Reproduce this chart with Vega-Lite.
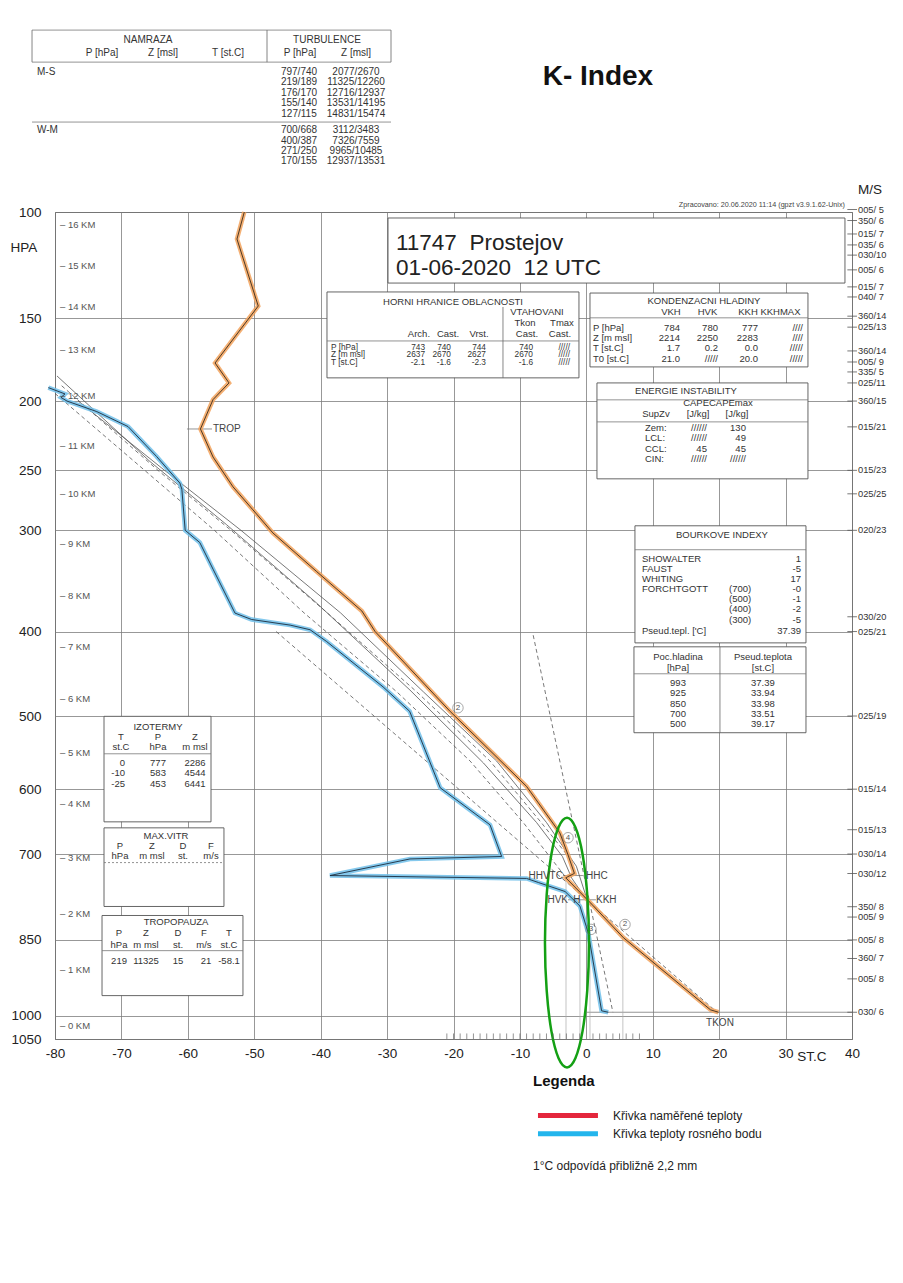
{
"$schema":"https://vega.github.io/schema/vega-lite/v6.json",
"width":797,"height":827,
"autosize":{"type":"none"},
"padding":{"left":55,"top":212,"right":51,"bottom":244},
"background":"#ffffff",
"config":{"view":{"stroke":"#555555","strokeWidth":1},"font":"Liberation Sans","text":{"font":"Liberation Sans","color":"#333333","baseline":"middle"}},
"datasets":{
"temp":[{"p":100,"t":-51.5},{"p":111.4,"t":-52.6},{"p":143.6,"t":-49.4},{"p":175.8,"t":-55.9},{"p":188.2,"t":-53.8},{"p":199,"t":-56.2},{"p":219.2,"t":-58.1},{"p":239.8,"t":-56.2},{"p":263.1,"t":-53.2},{"p":282.2,"t":-50.2},{"p":302.3,"t":-47.2},{"p":338.3,"t":-40.6},{"p":378,"t":-33.8},{"p":400,"t":-31.8},{"p":494.2,"t":-20.5},{"p":596,"t":-9.0},{"p":666,"t":-4.0},{"p":700,"t":-2.8},{"p":732,"t":-1.8},{"p":739.4,"t":-3.1},{"p":782.5,"t":0.6},{"p":846,"t":5.6},{"p":988,"t":18.7},{"p":993,"t":19.9}],
"dew":[{"p":191.2,"t":-81.0},{"p":195.3,"t":-78.5},{"p":197.6,"t":-79.1},{"p":200,"t":-78.2},{"p":207.1,"t":-73.7},{"p":217.5,"t":-69.0},{"p":239.4,"t":-64.7},{"p":260.1,"t":-61.2},{"p":265,"t":-60.9},{"p":300,"t":-60.4},{"p":311,"t":-58.2},{"p":336,"t":-56.2},{"p":380.2,"t":-52.9},{"p":387,"t":-50.4},{"p":393,"t":-44.6},{"p":398,"t":-41.6},{"p":411,"t":-39.1},{"p":463.7,"t":-30.6},{"p":494,"t":-26.6},{"p":598,"t":-22.0},{"p":653.6,"t":-14.5},{"p":704,"t":-12.75},{"p":708,"t":-26.55},{"p":735.6,"t":-38.6},{"p":737.8,"t":-25.5},{"p":740.5,"t":-9.0},{"p":747.5,"t":-7.2},{"p":762.9,"t":-3.2},{"p":788.4,"t":-0.96},{"p":837,"t":0.29},{"p":990,"t":2.3},{"p":993,"t":3.3}],
"parS":[{"line":"a","p":183.8,"t":-79.7},{"line":"a","p":243.2,"t":-65.7},{"line":"a","p":295.1,"t":-54.15},{"line":"a","p":369.8,"t":-40.6},{"line":"a","p":467.6,"t":-26.55},{"line":"a","p":562.6,"t":-15.5},{"line":"a","p":650,"t":-7.5},{"line":"a","p":704,"t":-3.6},{"line":"a","p":740,"t":-2.2},{"line":"a","p":780,"t":0.2},
{"line":"b","p":200,"t":-76.5},{"line":"b","p":250,"t":-63.5},{"line":"b","p":300,"t":-52},{"line":"b","p":380,"t":-37},{"line":"b","p":470,"t":-24.5},{"line":"b","p":560,"t":-13.5},{"line":"b","p":650,"t":-6},{"line":"b","p":720,"t":-1.5},{"line":"b","p":780,"t":0.2}],
"parD":[{"line":"c","p":195,"t":-80},{"line":"c","p":250,"t":-66.5},{"line":"c","p":300,"t":-56},{"line":"c","p":380,"t":-42.5},{"line":"c","p":470,"t":-28.5},{"line":"c","p":560,"t":-17.5},{"line":"c","p":650,"t":-9.5},{"line":"c","p":740,"t":-3.0},
{"line":"d","p":190,"t":-79},{"line":"d","p":250,"t":-64.5},{"line":"d","p":300,"t":-53.5},{"line":"d","p":380,"t":-39},{"line":"d","p":470,"t":-25.5},{"line":"d","p":560,"t":-14.5},{"line":"d","p":650,"t":-6.8},{"line":"d","p":700,"t":-3.0},
{"line":"e","p":400,"t":-46.7},{"line":"e","p":993,"t":19.7},
{"line":"f","p":404,"t":-8.0},{"line":"f","p":993,"t":4.0}],
"ell":[{"i":0,"p":855.3,"t":0.4},{"i":1,"p":768.7,"t":0.14},{"i":2,"p":700.3,"t":-0.57},{"i":3,"p":657.5,"t":-1.65},{"i":4,"p":642.9,"t":-2.91},{"i":5,"p":657.5,"t":-4.18},{"i":6,"p":700.3,"t":-5.26},{"i":7,"p":768.7,"t":-5.97},{"i":8,"p":855.3,"t":-6.23},{"i":9,"p":948,"t":-5.97},{"i":10,"p":1033,"t":-5.26},{"i":11,"p":1092.5,"t":-4.18},{"i":12,"p":1113,"t":-2.91},{"i":13,"p":1092.5,"t":-1.65},{"i":14,"p":1033,"t":-0.57},{"i":15,"p":948,"t":0.14}],
"boxes":[{"t":-29.86,"t2":38.94,"p":102.45,"p2":131.9},{"t":-39.05,"t2":-1.11,"p":136.35,"p2":185.0},{"t":0.55,"t2":33.37,"p":136.9,"p2":178.2},{"t":1.6,"t2":33.37,"p":188.2,"p2":256.7},{"t":7.32,"t2":33.07,"p":296.0,"p2":412.5},{"t":7.17,"t2":33.07,"p":416.9,"p2":521.7},{"t":-72.62,"t2":-56.51,"p":500.4,"p2":649.0},{"t":-72.62,"t2":-54.56,"p":658.3,"p2":789.1},{"t":-72.92,"t2":-51.7,"p":805.2,"p2":958.7}],
"hr":[{"t":-83.46,"t2":-29.41,"p":43.67},{"t":-83.46,"t2":-29.41,"p":51.29},{"t":-83.46,"t2":-29.41,"p":68.03},{"t":-39.05,"t2":-1.11,"p":162.8},{"t":0.55,"t2":33.37,"p":149.9},{"t":1.6,"t2":33.37,"p":199.2},{"t":1.6,"t2":33.37,"p":214.2},{"t":7.32,"t2":33.07,"p":317.6},{"t":7.17,"t2":33.07,"p":448.0},{"t":-72.62,"t2":-56.51,"p":550.0},{"t":-72.92,"t2":-51.7,"p":870.2},{"t":-3.52,"t2":-0.51,"p":735.6},{"t":-2.76,"t2":1.45,"p":777.3},{"t":0.1,"t2":40,"p":993},{"t":-60.13,"t2":-56.36,"p":219.2}],
"hd":[{"t":-72.62,"t2":-54.56,"p":714.0}],
"vr":[{"t":-83.46,"p":43.67,"p2":51.29},{"t":-48.08,"p":43.67,"p2":51.29},{"t":-29.41,"p":43.67,"p2":51.29},{"t":-12.55,"p":144.1,"p2":185.0},{"t":20.12,"p":416.9,"p2":521.7}],
"vt":[{"t":-3.06,"p":736,"p2":1050},{"t":-0.96,"p":777,"p2":1050},{"t":0.55,"p":830,"p2":1050},{"t":5.5,"p":846,"p2":1050}],
"bt":[{"t":-21},{"t":-20},{"t":-19},{"t":-18},{"t":-17},{"t":-16},{"t":-15},{"t":-14},{"t":-13},{"t":-12},{"t":-11},{"t":-10},{"t":-9},{"t":-8},{"t":-7},{"t":-6},{"t":-5},{"t":-4},{"t":-3},{"t":-2},{"t":-1},{"t":1},{"t":2},{"t":3},{"t":4},{"t":5},{"t":6},{"t":7},{"t":8}],
"wind":[{"p":99,"s":"005/ 5"},{"p":103.5,"s":"350/ 6"},{"p":109.2,"s":"015/ 7"},{"p":114.0,"s":"035/ 6"},{"p":118.6,"s":"030/10"},{"p":125.5,"s":"005/ 6"},{"p":133.8,"s":"015/ 7"},{"p":138.9,"s":"040/ 7"},{"p":149,"s":"360/14"},{"p":155,"s":"025/13"},{"p":168.6,"s":"360/14"},{"p":175.2,"s":"005/ 9"},{"p":181.3,"s":"335/ 5"},{"p":188.2,"s":"025/11"},{"p":200,"s":"360/15"},{"p":217.7,"s":"015/21"},{"p":250,"s":"015/23"},{"p":268.8,"s":"025/25"},{"p":300,"s":"020/23"},{"p":384.1,"s":"030/20"},{"p":400,"s":"025/21"},{"p":500,"s":"025/19"},{"p":600,"s":"015/14"},{"p":661.2,"s":"015/13"},{"p":700,"s":"030/14"},{"p":732.2,"s":"030/12"},{"p":789.5,"s":"350/ 8"},{"p":808,"s":"005/ 9"},{"p":850,"s":"005/ 8"},{"p":885.2,"s":"360/ 7"},{"p":925,"s":"005/ 8"},{"p":993,"s":"030/ 6"}],
"km":[{"p":105.4,"s":"–  16 KM"},{"p":123.6,"s":"–  15 KM"},{"p":144.1,"s":"–  14 KM"},{"p":168.0,"s":"–  13 KM"},{"p":196.6,"s":"–  12 KM"},{"p":231.4,"s":"–  11 KM"},{"p":268.8,"s":"–  10 KM"},{"p":312.2,"s":"–  9 KM"},{"p":362.3,"s":"–  8 KM"},{"p":416.9,"s":"–  7 KM"},{"p":478.1,"s":"–  6 KM"},{"p":548.5,"s":"–  5 KM"},{"p":622.6,"s":"–  4 KM"},{"p":706.1,"s":"–  3 KM"},{"p":801.7,"s":"–  2 KM"},{"p":906.8,"s":"–  1 KM"},{"p":1021,"s":"–  0 KM"}],
"hdrC":[{"t":-66.0,"p":45.96,"s":"NAMRAZA"},{"t":-39.05,"p":45.96,"s":"TURBULENCE"},{"t":-72.92,"p":49.06,"s":"P [hPa]"},{"t":-63.74,"p":49.06,"s":"Z [msl]"},{"t":-53.95,"p":49.06,"s":"T [st.C]"},{"t":-43.11,"p":49.06,"s":"P [hPa]"},{"t":-34.68,"p":49.06,"s":"Z [msl]"},
{"t":-43.26,"p":53.84,"s":"797/740"},{"t":-34.68,"p":53.84,"s":"2077/2670"},{"t":-43.26,"p":56.49,"s":"219/189"},{"t":-34.68,"p":56.49,"s":"11325/12260"},{"t":-43.26,"p":59.52,"s":"176/170"},{"t":-34.68,"p":59.52,"s":"12716/12937"},{"t":-43.26,"p":62.36,"s":"155/140"},{"t":-34.68,"p":62.36,"s":"13531/14195"},{"t":-43.26,"p":65.6,"s":"127/115"},{"t":-34.68,"p":65.6,"s":"14831/15474"},
{"t":-43.26,"p":70.52,"s":"700/668"},{"t":-34.68,"p":70.52,"s":"3112/3483"},{"t":-43.26,"p":74.06,"s":"400/387"},{"t":-34.68,"p":74.06,"s":"7326/7559"},{"t":-43.26,"p":77.39,"s":"271/250"},{"t":-34.68,"p":77.39,"s":"9965/10485"},{"t":-43.26,"p":80.81,"s":"170/155"},{"t":-34.68,"p":80.81,"s":"12937/13531"}],
"hdrL":[{"t":-82.71,"p":53.84,"s":"M-S"},{"t":-82.71,"p":70.52,"s":"W-M"}],
"tabC":[{"t":-20.08,"p":141.5,"s":"HORNI HRANICE OBLACNOSTI"},{"t":-7.43,"p":146.8,"s":"VTAHOVANI"},{"t":-9.24,"p":152.7,"s":"Tkon"},{"t":-3.67,"p":152.7,"s":"Tmax"},{"t":-25.2,"p":158.8,"s":"Arch."},{"t":-20.83,"p":158.8,"s":"Cast."},{"t":-16.16,"p":158.8,"s":"Vrst."},{"t":-8.94,"p":158.8,"s":"Cast."},{"t":-3.97,"p":158.8,"s":"Cast."},
{"t":17.71,"p":140.98,"s":"KONDENZACNI HLADINY"},{"t":12.74,"p":146.8,"s":"VKH"},{"t":18.24,"p":146.8,"s":"HVK"},{"t":24.34,"p":146.8,"s":"KKH"},{"t":29.23,"p":146.8,"s":"KKHMAX"},
{"t":15.0,"p":193.3,"s":"ENERGIE INSTABILITY"},{"t":19.82,"p":201.2,"s":"CAPECAPEmax"},{"t":10.48,"p":208.7,"s":"SupZv"},{"t":16.81,"p":208.7,"s":"[J/kg]"},{"t":22.68,"p":208.7,"s":"[J/kg]"},
{"t":20.42,"p":304.1,"s":"BOURKOVE INDEXY"},
{"t":13.8,"p":428.2,"s":"Poc.hladina"},{"t":13.8,"p":440.9,"s":"[hPa]"},{"t":26.59,"p":428.2,"s":"Pseud.teplota"},{"t":26.59,"p":440.9,"s":"[st.C]"},
{"t":13.8,"p":458.7,"s":"993"},{"t":13.8,"p":470.8,"s":"925"},{"t":13.8,"p":484.4,"s":"850"},{"t":13.8,"p":497.0,"s":"700"},{"t":13.8,"p":509.9,"s":"500"},
{"t":26.59,"p":458.7,"s":"37.39"},{"t":26.59,"p":470.8,"s":"33.94"},{"t":26.59,"p":484.4,"s":"33.98"},{"t":26.59,"p":497.0,"s":"33.51"},{"t":26.59,"p":509.9,"s":"39.17"},
{"t":-64.49,"p":513.8,"s":"IZOTERMY"},{"t":-70.06,"p":527.0,"s":"T"},{"t":-64.49,"p":527.0,"s":"P"},{"t":-58.92,"p":527.0,"s":"Z"},{"t":-70.06,"p":540.4,"s":"st.C"},{"t":-64.49,"p":540.4,"s":"hPa"},{"t":-58.92,"p":540.4,"s":"m msl"},
{"t":-64.49,"p":562.2,"s":"777"},{"t":-64.49,"p":576.3,"s":"583"},{"t":-64.49,"p":592.0,"s":"453"},{"t":-58.92,"p":562.2,"s":"2286"},{"t":-58.92,"p":576.3,"s":"4544"},{"t":-58.92,"p":592.0,"s":"6441"},
{"t":-63.29,"p":670.7,"s":"MAX.VITR"},{"t":-70.21,"p":687.0,"s":"P"},{"t":-65.4,"p":687.0,"s":"Z"},{"t":-60.73,"p":687.0,"s":"D"},{"t":-56.51,"p":687.0,"s":"F"},{"t":-70.21,"p":702.8,"s":"hPa"},{"t":-65.4,"p":702.8,"s":"m msl"},{"t":-60.73,"p":702.8,"s":"st."},{"t":-56.51,"p":702.8,"s":"m/s"},
{"t":-61.78,"p":817.8,"s":"TROPOPAUZA"},{"t":-70.36,"p":838.0,"s":"P"},{"t":-66.3,"p":838.0,"s":"Z"},{"t":-61.48,"p":838.0,"s":"D"},{"t":-57.57,"p":838.0,"s":"F"},{"t":-53.8,"p":838.0,"s":"T"},
{"t":-70.36,"p":858.6,"s":"hPa"},{"t":-66.3,"p":858.6,"s":"m msl"},{"t":-61.48,"p":858.6,"s":"st."},{"t":-57.57,"p":858.6,"s":"m/s"},{"t":-53.8,"p":858.6,"s":"st.C"},
{"t":-70.36,"p":889.1,"s":"219"},{"t":-66.3,"p":889.1,"s":"11325"},{"t":-61.48,"p":889.1,"s":"15"},{"t":-57.27,"p":889.1,"s":"21"},{"t":-53.8,"p":889.1,"s":"-58.1"}],
"hrL":[{"t":-38.45,"p":166.6,"s":"P [hPa]"},{"t":-38.45,"p":171.3,"s":"Z [m msl]"},{"t":-38.45,"p":176.1,"s":"T [st.C]"}],
"hrR":[{"t":-24.29,"p":166.6,"s":"743"},{"t":-24.29,"p":171.3,"s":"2637"},{"t":-24.29,"p":176.1,"s":"-2.1"},
{"t":-20.38,"p":166.6,"s":"740"},{"t":-20.38,"p":171.3,"s":"2670"},{"t":-20.38,"p":176.1,"s":"-1.6"},
{"t":-15.11,"p":166.6,"s":"744"},{"t":-15.11,"p":171.3,"s":"2627"},{"t":-15.11,"p":176.1,"s":"-2.3"},
{"t":-8.03,"p":166.6,"s":"740"},{"t":-8.03,"p":171.3,"s":"2670"},{"t":-8.03,"p":176.1,"s":"-1.6"},
{"t":-2.46,"p":166.6,"s":"/////"},{"t":-2.46,"p":171.3,"s":"/////"},{"t":-2.46,"p":176.1,"s":"/////"}],
"tabL":[{"t":1.0,"p":155.5,"s":"P [hPa]"},{"t":1.0,"p":161.1,"s":"Z [m msl]"},{"t":1.0,"p":166.8,"s":"T [st.C]"},{"t":1.0,"p":173.4,"s":"T0 [st.C]"},
{"t":8.83,"p":218.4,"s":"Zem:"},{"t":8.83,"p":225.6,"s":"LCL:"},{"t":8.83,"p":233.7,"s":"CCL:"},{"t":8.83,"p":241.1,"s":"CIN:"},
{"t":8.38,"p":326.0,"s":"SHOWALTER"},{"t":8.38,"p":335.5,"s":"FAUST"},{"t":8.38,"p":345.2,"s":"WHITING"},{"t":8.38,"p":355.2,"s":"FORCHTGOTT"},{"t":8.38,"p":399.1,"s":"Pseud.tepl. ['C]"},
{"t":21.48,"p":355.2,"s":"(700)"},{"t":21.48,"p":365.3,"s":"(500)"},{"t":21.48,"p":375.6,"s":"(400)"},{"t":21.48,"p":387.2,"s":"(300)"}],
"tabR":[{"t":14.1,"p":155.5,"s":"784"},{"t":14.1,"p":161.1,"s":"2214"},{"t":14.1,"p":166.8,"s":"1.7"},{"t":14.1,"p":173.4,"s":"21.0"},
{"t":19.82,"p":155.5,"s":"780"},{"t":19.82,"p":161.1,"s":"2250"},{"t":19.82,"p":166.8,"s":"0.2"},{"t":19.82,"p":173.4,"s":"/////"},
{"t":25.84,"p":155.5,"s":"777"},{"t":25.84,"p":161.1,"s":"2283"},{"t":25.84,"p":166.8,"s":"0.0"},{"t":25.84,"p":173.4,"s":"20.0"},
{"t":32.62,"p":155.5,"s":"////"},{"t":32.62,"p":161.1,"s":"////"},{"t":32.62,"p":166.8,"s":"/////"},{"t":32.62,"p":173.4,"s":"/////"},
{"t":18.16,"p":218.4,"s":"//////"},{"t":18.16,"p":225.6,"s":"//////"},{"t":18.16,"p":233.7,"s":"45"},{"t":18.16,"p":241.1,"s":"//////"},
{"t":24.03,"p":218.4,"s":"130"},{"t":24.03,"p":225.6,"s":"49"},{"t":24.03,"p":233.7,"s":"45"},{"t":24.03,"p":241.1,"s":"//////"},
{"t":32.32,"p":326.0,"s":"1"},{"t":32.32,"p":335.5,"s":"-5"},{"t":32.32,"p":345.2,"s":"17"},{"t":32.32,"p":355.2,"s":"-0"},{"t":32.32,"p":365.3,"s":"-1"},{"t":32.32,"p":375.6,"s":"-2"},{"t":32.32,"p":387.2,"s":"-5"},{"t":32.32,"p":399.1,"s":"37.39"},
{"t":-69.46,"p":562.2,"s":"0"},{"t":-69.46,"p":576.3,"s":"-10"},{"t":-69.46,"p":592.0,"s":"-25"}],
"station":[{"t":-28.66,"p":113.1,"s":"11747 \u00a0Prostejov"},{"t":-28.66,"p":124.6,"s":"01-06-2020 \u00a012 UTC"}],
"title":[{"t":1.75,"p":55.16,"s":"K- Index"}],
"axlab":[{"t":-84.67,"p":115.4,"s":"HPA"},{"t":42.7,"p":91.37,"s":"M/S"},{"t":33.97,"p":1089,"s":"ST.C"}],
"zpr":[{"t":38.94,"p":97.19,"s":"Zpracovano: 20.06.2020  11:14  (gpzt v3.9.1.62-Unix)"}],
"lblL":[{"t":-56.21,"p":219.2,"s":"TROP"},{"t":-0.05,"p":735.6,"s":"HHC"},{"t":1.45,"p":777.3,"s":"KKH"}],
"lblR":[{"t":-3.52,"p":735.6,"s":"HHVTC"},{"t":-2.76,"p":777.3,"s":"HVK"}],
"lblC":[{"t":-1.41,"p":777.3,"s":"H"},{"t":20.12,"p":1014.6,"s":"TKON"}],
"circ":[{"t":-19.33,"p":489.5,"s":"2"},{"t":-2.76,"p":673.8,"s":"4"},{"t":0.7,"p":830.5,"s":"3"},{"t":5.82,"p":821.5,"s":"2"}],
"leg":[{"p":1226,"s":"Křivka naměřené teploty"},{"p":1270.6,"s":"Křivka teploty rosného bodu"}],
"legT":[{"t":-8.03,"p":1145,"s":"Legenda"}],
"note":[{"t":-8.03,"p":1352,"s":"1°C odpovídá přibližně 2,2 mm"}]
},
"layer":[
{"encoding":{
"x":{"field":"t","type":"quantitative","scale":{"type":"linear","domain":[-80,40],"nice":false,"zero":false},
"axis":{"values":[-80,-70,-60,-50,-40,-30,-20,-10,0,10,20,30,40],"labelExpr":"'' + datum.value","title":null,"grid":true,"gridColor":"#7d7d7d","gridWidth":0.8,"ticks":false,"domain":false,"labelFontSize":13.5,"labelColor":"#222222","labelPadding":7,"labelFont":"Liberation Sans","labelOverlap":false,"labelFlush":false}},
"y":{"field":"p","type":"quantitative","scale":{"type":"pow","exponent":0.286,"domain":[100,1050],"reverse":true,"nice":false,"zero":false},
"axis":{"values":[100,150,200,250,300,400,500,600,700,850,1000,1050],"labelExpr":"'' + datum.value","title":null,"grid":true,"gridColor":"#7d7d7d","gridWidth":0.8,"ticks":false,"domain":false,"labelFontSize":13.5,"labelColor":"#222222","labelPadding":14,"labelFont":"Liberation Sans","labelOverlap":false,"labelFlush":false}}
},
"layer":[
{"data":{"name":"boxes"},"mark":{"type":"rect","fill":"#ffffff","stroke":"#555555","strokeWidth":0.9},"encoding":{"x2":{"field":"t2"},"y2":{"field":"p2"}}},
{"data":{"name":"hr"},"mark":{"type":"rule","color":"#777777","strokeWidth":0.8},"encoding":{"x2":{"field":"t2"}}},
{"data":{"name":"hd"},"mark":{"type":"rule","color":"#777777","strokeWidth":0.8,"strokeDash":[2,2]},"encoding":{"x2":{"field":"t2"}}},
{"data":{"name":"vr"},"mark":{"type":"rule","color":"#666666","strokeWidth":0.8},"encoding":{"y2":{"field":"p2"}}},
{"data":{"name":"vt"},"mark":{"type":"rule","color":"#aaaaaa","strokeWidth":0.7},"encoding":{"y2":{"field":"p2"}}},
{"data":{"name":"parS"},"mark":{"type":"line","color":"#555555","strokeWidth":0.8},"encoding":{"detail":{"field":"line"},"order":{"field":"p","type":"quantitative"}}},
{"data":{"name":"parD"},"mark":{"type":"line","color":"#555555","strokeWidth":0.8,"strokeDash":[4,3]},"encoding":{"detail":{"field":"line"},"order":{"field":"p","type":"quantitative"}}},
{"data":{"name":"temp"},"mark":{"type":"line","color":"#f2a25c","strokeWidth":4.5,"opacity":0.85},"encoding":{"order":{"field":"p","type":"quantitative"}}},
{"data":{"name":"temp"},"mark":{"type":"line","color":"#3b2b1b","strokeWidth":0.9},"encoding":{"order":{"field":"p","type":"quantitative"}}},
{"data":{"name":"dew"},"mark":{"type":"line","color":"#70c0ea","strokeWidth":4.5,"opacity":0.85},"encoding":{"order":{"field":"p","type":"quantitative"}}},
{"data":{"name":"dew"},"mark":{"type":"line","color":"#1d2d3d","strokeWidth":0.9},"encoding":{"order":{"field":"p","type":"quantitative"}}},
{"data":{"name":"ell"},"mark":{"type":"line","color":"#14a014","strokeWidth":2.5,"interpolate":"cardinal-closed"},"encoding":{"order":{"field":"i","type":"quantitative"}}},
{"data":{"name":"circ"},"mark":{"type":"point","shape":"circle","size":110,"filled":false,"stroke":"#666666","strokeWidth":0.8},"encoding":{}},
{"data":{"name":"circ"},"mark":{"type":"text","fontSize":8,"align":"center","color":"#555555"},"encoding":{"text":{"field":"s"}}},
{"data":{"name":"hdrC"},"mark":{"type":"text","fontSize":10,"align":"center"},"encoding":{"text":{"field":"s"}}},
{"data":{"name":"hdrL"},"mark":{"type":"text","fontSize":10,"align":"left"},"encoding":{"text":{"field":"s"}}},
{"data":{"name":"tabC"},"mark":{"type":"text","fontSize":9.5,"align":"center"},"encoding":{"text":{"field":"s"}}},
{"data":{"name":"tabL"},"mark":{"type":"text","fontSize":9.5,"align":"left"},"encoding":{"text":{"field":"s"}}},
{"data":{"name":"tabR"},"mark":{"type":"text","fontSize":9.5,"align":"right"},"encoding":{"text":{"field":"s"}}},
{"data":{"name":"hrL"},"mark":{"type":"text","fontSize":8.3,"align":"left"},"encoding":{"text":{"field":"s"}}},
{"data":{"name":"hrR"},"mark":{"type":"text","fontSize":8.3,"align":"right"},"encoding":{"text":{"field":"s"}}},
{"data":{"name":"station"},"mark":{"type":"text","fontSize":22.5,"align":"left","color":"#222222"},"encoding":{"text":{"field":"s"}}},
{"data":{"name":"title"},"mark":{"type":"text","fontSize":28,"fontWeight":"bold","align":"center","color":"#111111"},"encoding":{"text":{"field":"s"}}},
{"data":{"name":"axlab"},"mark":{"type":"text","fontSize":13.5,"align":"center","color":"#222222"},"encoding":{"text":{"field":"s"}}},
{"data":{"name":"zpr"},"mark":{"type":"text","fontSize":7.2,"align":"right","color":"#444444"},"encoding":{"text":{"field":"s"}}},
{"data":{"name":"lblL"},"mark":{"type":"text","fontSize":10,"align":"left","color":"#444444"},"encoding":{"text":{"field":"s"}}},
{"data":{"name":"lblR"},"mark":{"type":"text","fontSize":10,"align":"right","color":"#444444"},"encoding":{"text":{"field":"s"}}},
{"data":{"name":"lblC"},"mark":{"type":"text","fontSize":10,"align":"center","color":"#444444"},"encoding":{"text":{"field":"s"}}},
{"data":{"name":"legT"},"mark":{"type":"text","fontSize":15,"fontWeight":"bold","align":"left","color":"#111111"},"encoding":{"text":{"field":"s"}}},
{"data":{"name":"note"},"mark":{"type":"text","fontSize":12,"align":"left","color":"#222222"},"encoding":{"text":{"field":"s"}}}
]},
{"data":{"name":"bt"},"mark":{"type":"rule","color":"#666666","strokeWidth":0.7},"encoding":{"x":{"field":"t","type":"quantitative","scale":{"type":"linear","domain":[-80,40],"nice":false,"zero":false}},"y":{"datum":1038,"type":"quantitative","scale":{"type":"pow","exponent":0.286,"domain":[100,1050],"reverse":true,"nice":false,"zero":false}},"y2":{"datum":1050}}},
{"data":{"name":"km"},"mark":{"type":"text","fontSize":9.5,"align":"left","color":"#555555"},"encoding":{"x":{"datum":-79.25,"type":"quantitative","scale":{"type":"linear","domain":[-80,40],"nice":false,"zero":false}},"y":{"field":"p","type":"quantitative","scale":{"type":"pow","exponent":0.286,"domain":[100,1050],"reverse":true,"nice":false,"zero":false}},"text":{"field":"s"}}},
{"data":{"name":"wind"},"mark":{"type":"rule","color":"#555555","strokeWidth":0.8},"encoding":{"x":{"datum":39.3,"type":"quantitative","scale":{"type":"linear","domain":[-80,40],"nice":false,"zero":false}},"x2":{"datum":40.75},"y":{"field":"p","type":"quantitative","scale":{"type":"pow","exponent":0.286,"domain":[100,1050],"reverse":true,"nice":false,"zero":false}}}},
{"data":{"name":"wind"},"mark":{"type":"text","fontSize":9.3,"align":"left","color":"#333333"},"encoding":{"x":{"datum":40.9,"type":"quantitative","scale":{"type":"linear","domain":[-80,40],"nice":false,"zero":false}},"y":{"field":"p","type":"quantitative","scale":{"type":"pow","exponent":0.286,"domain":[100,1050],"reverse":true,"nice":false,"zero":false}},"text":{"field":"s"}}},
{"data":{"name":"leg"},"mark":{"type":"rule","strokeWidth":5},"encoding":{"x":{"datum":-7.28,"type":"quantitative","scale":{"type":"linear","domain":[-80,40],"nice":false,"zero":false}},"x2":{"datum":1.75},"y":{"field":"p","type":"quantitative","scale":{"type":"pow","exponent":0.286,"domain":[100,1050],"reverse":true,"nice":false,"zero":false}},"color":{"field":"s","type":"nominal","scale":{"domain":["Křivka naměřené teploty","Křivka teploty rosného bodu"],"range":["#e4263c","#23b5ec"]},"legend":null}}},
{"data":{"name":"leg"},"mark":{"type":"text","fontSize":12,"align":"left","color":"#222222"},"encoding":{"x":{"datum":4.01,"type":"quantitative","scale":{"type":"linear","domain":[-80,40],"nice":false,"zero":false}},"y":{"field":"p","type":"quantitative","scale":{"type":"pow","exponent":0.286,"domain":[100,1050],"reverse":true,"nice":false,"zero":false}},"text":{"field":"s"}}}
]
}
